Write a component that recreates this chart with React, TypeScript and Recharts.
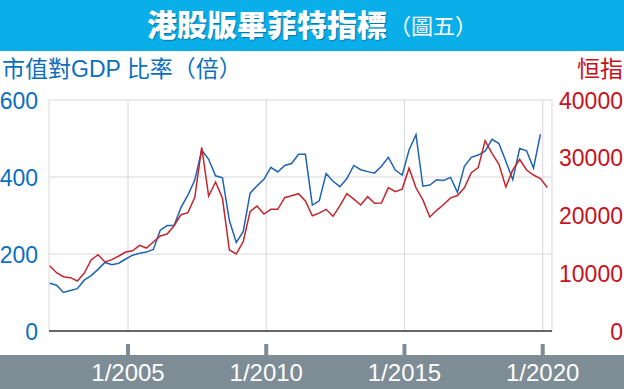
import { LineChart, Line, XAxis, YAxis, CartesianGrid, ReferenceLine } from "recharts";

// quarter-end months, 3/2002 .. 3/2020
const quarters = [
  "2002-03", "2002-06", "2002-09", "2002-12",
  "2003-03", "2003-06", "2003-09", "2003-12",
  "2004-03", "2004-06", "2004-09", "2004-12",
  "2005-03", "2005-06", "2005-09", "2005-12",
  "2006-03", "2006-06", "2006-09", "2006-12",
  "2007-03", "2007-06", "2007-09", "2007-12",
  "2008-03", "2008-06", "2008-09", "2008-12",
  "2009-03", "2009-06", "2009-09", "2009-12",
  "2010-03", "2010-06", "2010-09", "2010-12",
  "2011-03", "2011-06", "2011-09", "2011-12",
  "2012-03", "2012-06", "2012-09", "2012-12",
  "2013-03", "2013-06", "2013-09", "2013-12",
  "2014-03", "2014-06", "2014-09", "2014-12",
  "2015-03", "2015-06", "2015-09", "2015-12",
  "2016-03", "2016-06", "2016-09", "2016-12",
  "2017-03", "2017-06", "2017-09", "2017-12",
  "2018-03", "2018-06", "2018-09", "2018-12",
  "2019-03", "2019-06", "2019-09", "2019-12",
  "2020-03",
];

// market cap / GDP (times x100)
const ratio = [
  124, 119, 100, 105, 110, 132, 144, 160, 178, 172, 176, 187,
  197, 202, 205, 212, 262, 274, 274, 321, 353, 392, 470, 446,
  403, 398, 287, 230, 258, 358, 377, 394, 425, 413, 430, 435,
  459, 459, 327, 338, 409, 389, 375, 396, 430, 419, 414, 410,
  428, 451, 418, 405, 470, 510, 376, 379, 393, 391, 399, 360,
  428, 451, 457, 467, 498, 487, 441, 393, 474, 468, 423, 511,
];

// Hang Seng Index
const hsi = [
  11300, 10100, 9400, 9230, 8660, 9990, 12300, 13200, 11950, 12350, 12990, 13680,
  13900, 14840, 14370, 15410, 16450, 16800, 18230, 20140, 20500, 23150, 31800, 23380,
  25800, 22980, 14030, 13330, 15460, 20660, 21650, 20260, 21070, 21070, 23080, 23430,
  23780, 22510, 19950, 20400, 21070, 19850, 21700, 23780, 22830, 21820, 23260, 22110,
  22160, 24820, 24120, 24570, 28200, 24800, 22700, 19750, 20900, 21900, 23050, 23450,
  24800, 27400, 28300, 32950, 30770, 28850, 24950, 27900, 29700, 27880, 27010, 26380,
  24850,
];

const yearTicks = [2005, 2010, 2015, 2020];
const leftTicks = [0, 200, 400, 600];
const rightTicks = [0, 10000, 20000, 30000, 40000];

const toYear = (s: string) => {
  const [y, m] = s.split("-").map(Number);
  return y + (m - 1) / 12;
};

const data = quarters.map((q, i) => ({ t: toYear(q), ratio: ratio[i], hsi: hsi[i] }));

const LATIN = '"Liberation Sans", Arial, sans-serif';
const CJK = '"Liberation Sans", "Noto Sans CJK TC", sans-serif';

const BLUE_TXT = "#0b6fc0";
const RED_TXT = "#c8101c";
const BAND = "#7e8c95";

const LeftTick = ({ y, payload }: any) => (
  <text x={38} y={y + 9} textAnchor="end" fontSize={23} fill={BLUE_TXT} fontFamily={LATIN}>
    {payload.value}
  </text>
);

const RightTick = ({ y, payload }: any) => (
  <text x={623} y={y + 8.5} textAnchor="end" fontSize={23} fill={RED_TXT} fontFamily={LATIN}>
    {payload.value}
  </text>
);

const YearTick = ({ x, payload }: any) => (
  <g>
    <rect x={x - 2} y={344} width={4} height={12} fill={BAND} />
    <text x={x} y={381} textAnchor="middle" fontSize={24} fill="#fff" fontFamily={LATIN}>
      {`1/${payload.value}`}
    </text>
  </g>
);

export default function App() {
  return (
    <div
      style={{
        position: "absolute",
        left: 0,
        top: 0,
        width: 624,
        height: 389,
        background: "#fff",
        overflow: "hidden",
      }}
    >
      <div
        style={{
          position: "absolute",
          left: 0,
          top: 0,
          width: 624,
          height: 51,
          background: "#0aaee9",
          display: "flex",
          alignItems: "center",
          justifyContent: "center",
          color: "#fff",
          fontFamily: CJK,
        }}
      >
        <span
          style={{
            fontSize: 30,
            fontWeight: 900,
            textShadow: "1px 1px 1px rgba(0,50,90,0.45)",
            lineHeight: 1,
          }}
        >
          港股版畢菲特指標
        </span>
        <span style={{ fontSize: 22, lineHeight: 1, marginLeft: 2, marginTop: 3 }}>（圖五）</span>
      </div>

      <div
        style={{
          position: "absolute",
          left: 2,
          top: 56,
          fontSize: 23,
          lineHeight: "27px",
          color: BLUE_TXT,
          fontFamily: CJK,
          whiteSpace: "nowrap",
        }}
      >
        市值對GDP 比率（倍）
      </div>
      <div
        style={{
          position: "absolute",
          right: 1,
          top: 56,
          fontSize: 23,
          lineHeight: "27px",
          color: RED_TXT,
          fontFamily: CJK,
        }}
      >
        恒指
      </div>

      <div
        style={{ position: "absolute", left: 0, top: 355, width: 624, height: 34, background: BAND }}
      />

      <div style={{ position: "absolute", left: 0, top: 0 }}>
        <LineChart
          width={624}
          height={389}
          data={data}
          margin={{ top: 100, right: 0, bottom: 0, left: 0 }}
        >
          <CartesianGrid yAxisId="left" stroke="#d8d8de" strokeWidth={1} />
          <XAxis
            dataKey="t"
            type="number"
            domain={[2002.1426, 2020.336]}
            allowDataOverflow
            ticks={yearTicks}
            height={58}
            axisLine={false}
            tickLine={false}
            tick={<YearTick />}
          />
          <YAxis
            yAxisId="left"
            orientation="left"
            width={49}
            domain={[0, 600]}
            ticks={leftTicks}
            axisLine={false}
            tickLine={false}
            tick={<LeftTick />}
          />
          <YAxis
            yAxisId="right"
            orientation="right"
            width={72}
            domain={[0, 40000]}
            ticks={rightTicks}
            axisLine={false}
            tickLine={false}
            tick={<RightTick />}
          />
          <ReferenceLine yAxisId="left" y={0} stroke="#3a3a3a" strokeWidth={1.5} />
          <Line
            yAxisId="left"
            dataKey="ratio"
            type="linear"
            stroke="#1f63b3"
            strokeWidth={1.5}
            dot={false}
            isAnimationActive={false}
          />
          <Line
            yAxisId="right"
            dataKey="hsi"
            type="linear"
            stroke="#c3262e"
            strokeWidth={1.5}
            dot={false}
            isAnimationActive={false}
          />
        </LineChart>
      </div>
    </div>
  );
}
